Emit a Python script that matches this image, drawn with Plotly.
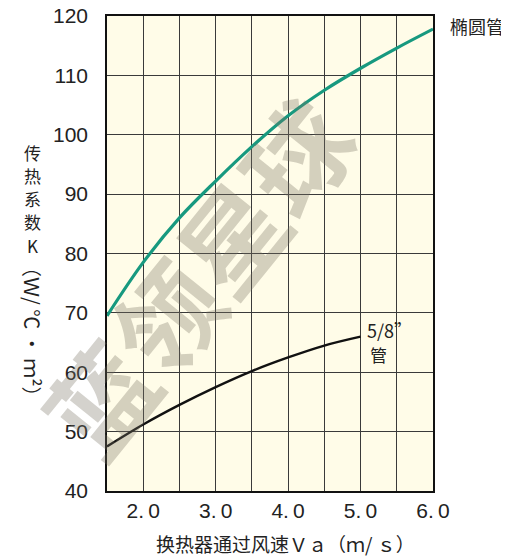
import plotly.graph_objects as go

# ---- data ----
wind_speed = [1.5, 2.0, 2.5, 3.0, 3.5, 4.0, 4.5, 5.0, 5.5, 6.0]
k_elliptical = [69.5, 78.5, 86.0, 92.2, 98.0, 103.2, 107.5, 111.2, 114.6, 117.8]

wind_speed_58 = [1.5, 2.0, 2.5, 3.0, 3.5, 4.0, 4.5, 5.0]
k_58 = [47.5, 51.2, 54.5, 57.5, 60.2, 62.5, 64.5, 66.0]

x_tick_vals = [1.5, 2.0, 2.5, 3.0, 3.5, 4.0, 4.5, 5.0, 5.5, 6.0]
x_tick_text = ["", "2.\u20090", "", "3.\u20090", "", "4.\u20090", "", "5.\u20090", "", "6.\u20090"]
y_tick_vals = [40, 50, 60, 70, 80, 90, 100, 110, 120]

label_elliptical = "椭圆管"
label_58_a = "5/8”"
label_58_b = "管"
x_title = "换热器通过风速Ｖａ（ｍ/ ｓ）"
y_title_chars = ["传", "热", "系", "数", "K"]
y_title_b = "（Ｗ/ ℃ ・ ｍ²）"
watermark = "蓝领星球"

num_font = "Liberation Sans Narrow, Arial Narrow, Liberation Sans, Arial, sans-serif"
cjk_font = "Noto Sans CJK SC, Noto Sans CJK JP, sans-serif"
txt_color = "#222222"

# page offset (browser body margin) compensation
OFF = 8
W, H = 509 - OFF, 558 - OFF
PL, PT, PR, PB = 107, 16, 433, 491  # desired plot box in page pixels


def px(xp):
    return (xp - PL) / (PR - PL)


def py(yp):
    return (PB - yp) / (PB - PT)


fig = go.Figure()
fig.add_trace(go.Scatter(
    x=wind_speed, y=k_elliptical, mode="lines",
    line=dict(color="#17997f", width=3.2, shape="spline"),
    hoverinfo="skip", showlegend=False))
fig.add_trace(go.Scatter(
    x=wind_speed_58, y=k_58, mode="lines",
    line=dict(color="#111111", width=2.4, shape="spline"),
    hoverinfo="skip", showlegend=False))

annotations = [
    dict(text=label_elliptical, xref="paper", yref="paper", x=px(448), y=py(26),
         xanchor="left", yanchor="middle", showarrow=False,
         font=dict(family=cjk_font, size=18, color=txt_color)),
    dict(text=label_58_a, xref="paper", yref="paper", x=px(365), y=py(330),
         xanchor="left", yanchor="middle", showarrow=False,
         font=dict(family=cjk_font, size=18, color=txt_color)),
    dict(text=label_58_b, xref="paper", yref="paper", x=px(368), y=py(354),
         xanchor="left", yanchor="middle", showarrow=False,
         font=dict(family=cjk_font, size=17, color=txt_color)),
    dict(text=x_title, xref="paper", yref="paper", x=px(285), y=py(543),
         xanchor="center", yanchor="middle", showarrow=False,
         font=dict(family=cjk_font, size=19, color=txt_color)),
    dict(text=y_title_b, xref="paper", yref="paper", x=px(32), y=py(332),
         xanchor="center", yanchor="middle", showarrow=False, textangle=90,
         font=dict(family=cjk_font, size=20, color=txt_color)),
    dict(text="<b>" + watermark + "</b>", xref="paper", yref="paper",
         x=px(196), y=py(275),
         xanchor="center", yanchor="middle", showarrow=False, textangle=-51,
         font=dict(family=cjk_font, size=104, color="rgba(120,115,100,0.32)")),
]
for ch, yc in zip(y_title_chars, [153, 175.5, 198, 221, 246]):
    annotations.append(dict(text=ch, xref="paper", yref="paper", x=px(32), y=py(yc),
                            xanchor="center", yanchor="middle", showarrow=False,
                            font=dict(family=cjk_font, size=17, color=txt_color)))

fig.update_layout(
    width=W, height=H,
    margin=dict(l=PL - OFF, r=W - (PR - OFF), t=PT - OFF, b=H - (PB - OFF), autoexpand=False),
    paper_bgcolor="white",
    plot_bgcolor="#fffce8",
    showlegend=False,
    xaxis=dict(
        range=[1.5, 6.0], tickvals=x_tick_vals, ticktext=x_tick_text,
        showgrid=True, gridcolor="#3a3a3a", gridwidth=1,
        showline=True, linecolor="#111111", linewidth=1.6, mirror=True,
        ticks="", zeroline=False, ticklabelstandoff=0, automargin=False,
        ticklabeloverflow="allow",
        tickfont=dict(family=num_font, size=21, color=txt_color),
    ),
    yaxis=dict(
        range=[40, 120], tickvals=y_tick_vals,
        showgrid=True, gridcolor="#3a3a3a", gridwidth=1,
        showline=True, linecolor="#111111", linewidth=1.6, mirror=True,
        ticks="", zeroline=False, ticklabelstandoff=13, automargin=False,
        ticklabeloverflow="allow",
        tickfont=dict(family=num_font, size=21, color=txt_color),
    ),
    annotations=annotations,
)

fig.write_html("out.html")
